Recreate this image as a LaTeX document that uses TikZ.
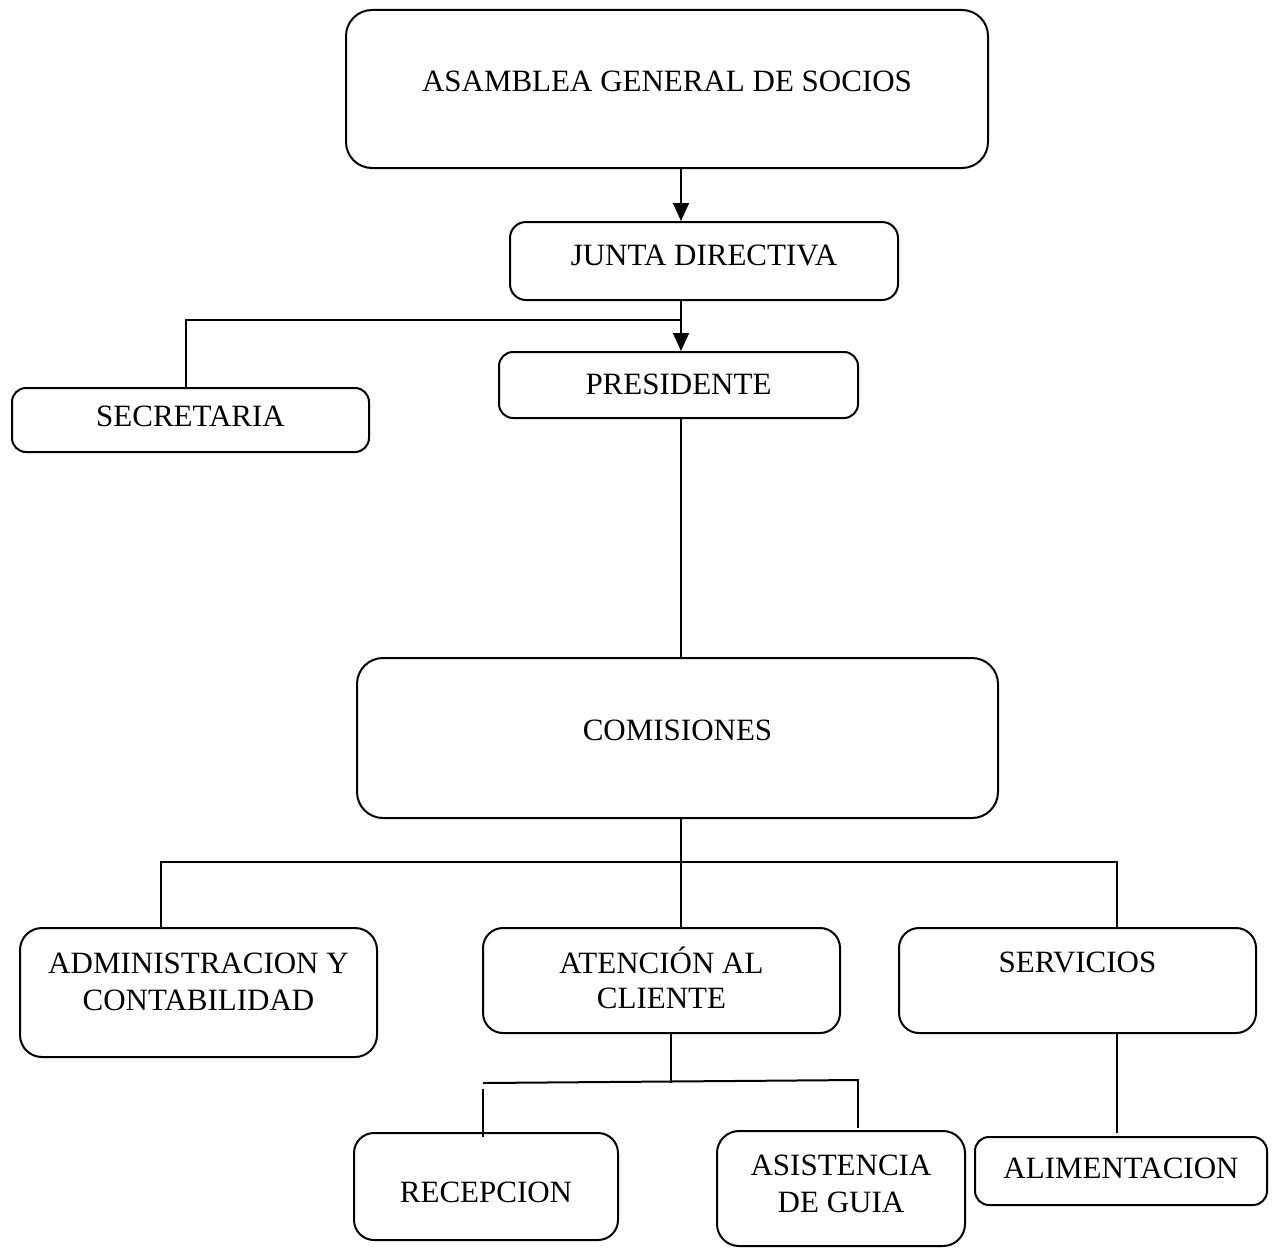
\documentclass[tikz,border=0pt]{standalone}
\usepackage{fontspec}
\setmainfont{Liberation Serif}
\usetikzlibrary{arrows.meta}
\begin{document}
\begin{tikzpicture}[x=1pt,y=-1pt,
  orgbox/.style={draw, line width=2pt, rounded corners=#1, inner sep=0pt},
  orgbox/.default=16pt,
  lbl/.style={anchor=base, inner sep=0pt, font=\fontsize{31}{36}\selectfont},
  link/.style={line width=2pt},
  arr/.style={link, -{Triangle[length=18pt,width=16pt]}}]
\useasboundingbox (0,0) rectangle (1276,1247);

% boxes
\node[orgbox=26pt, minimum width=642pt, minimum height=158pt] (asm) at (667,89) {};
\node[orgbox=16pt, minimum width=388pt, minimum height=78pt] (jd) at (704,261) {};
\node[orgbox=14pt, minimum width=359pt, minimum height=66pt] (pres) at (678.5,385) {};
\node[orgbox=14pt, minimum width=357pt, minimum height=64pt] (sec) at (190.5,420) {};
\node[orgbox=26pt, minimum width=641pt, minimum height=160pt] (com) at (677.5,738) {};
\node[orgbox=22pt, minimum width=357pt, minimum height=129pt] (adm) at (198.5,992.5) {};
\node[orgbox=20pt, minimum width=357pt, minimum height=105pt] (aten) at (661.5,980.5) {};
\node[orgbox=20pt, minimum width=357pt, minimum height=105pt] (serv) at (1077.5,980.5) {};
\node[orgbox=20pt, minimum width=264pt, minimum height=107pt] (rec) at (486,1186.5) {};
\node[orgbox=22pt, minimum width=248pt, minimum height=115pt] (asis) at (841,1188.5) {};
\node[orgbox=14pt, minimum width=292pt, minimum height=68pt] (alim) at (1121,1171) {};

% labels
\node[lbl] (asmt) at (667,92) {ASAMBLEA GENERAL DE SOCIOS};
\node[lbl] (jdt) at (704,265) {JUNTA DIRECTIVA};
\node[lbl] (prest) at (678.5,394) {PRESIDENTE};
\node[lbl] (sect) at (190.5,426) {SECRETARIA};
\node[lbl] (comt) at (677.5,740) {COMISIONES};
\node[lbl] (admt) at (198.5,973) {ADMINISTRACION Y};
\node[lbl] (admtb) at (198.5,1010) {CONTABILIDAD};
\node[lbl] (atent) at (661.5,973) {ATENCIÓN AL};
\node[lbl] (atentb) at (661.5,1008) {CLIENTE};
\node[lbl] (servt) at (1077.5,972) {SERVICIOS};
\node[lbl] (rect) at (486,1202) {RECEPCION};
\node[lbl] (asist) at (841,1175) {ASISTENCIA};
\node[lbl] (asistb) at (841,1212) {DE GUIA};
\node[lbl] (alimt) at (1121,1178) {ALIMENTACION};

% reference points for the connector lines
\coordinate (spine) at (681,0);
\coordinate (secx) at (186,0);
\coordinate (jdbus) at (681,320);
\coordinate (combus) at (681,862);
\coordinate (admx) at (161,0);
\coordinate (servx) at (1117,0);
\coordinate (atenx) at (671,0);
\coordinate (subl) at (483,1083);
\coordinate (subr) at (858,1080);
\coordinate (recl) at (483,1089);
\coordinate (recend) at (483,1137);
\coordinate (asisr) at (858,1079);
\coordinate (asisend) at (858,1128);
\coordinate (alimend) at (1117,1133);

% connectors
\draw[arr] (asm.south -| spine) -- (jd.north -| spine);
\draw[arr] (jd.south -| spine) -- (pres.north -| spine);
\draw[link] (jdbus) -- (jdbus -| secx) -- (sec.north -| secx);
\draw[link] (pres.south -| spine) -- (com.north -| spine);
\draw[link] (com.south -| spine) -- (aten.north -| spine);
\draw[link] (adm.north -| admx) -- (combus -| admx) -- (combus -| servx) -- (serv.north -| servx);
\draw[link] (aten.south -| atenx) -- (atenx |- subl);
\draw[link] (subl) -- (subr);
\draw[link] (asisr) -- (asisend);
\draw[link] (recl) -- (recend);
\draw[link] (serv.south -| servx) -- (alimend);
\end{tikzpicture}
\end{document}
